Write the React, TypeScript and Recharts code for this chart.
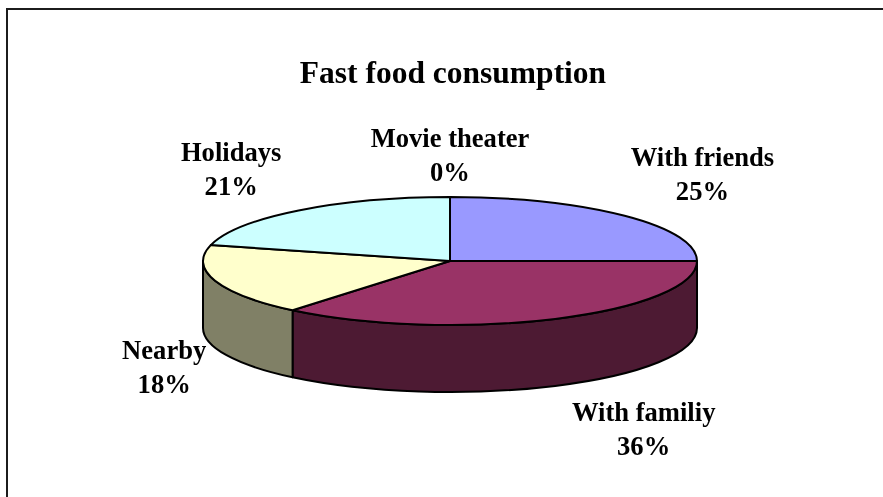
import { PieChart, Pie, Cell } from 'recharts';

const categories = ['With friends', 'With familiy', 'Nearby', 'Holidays', 'Movie theater'];
const shares = [25, 36, 18, 21, 0];

const topColors = ['#9999FF', '#993366', '#FFFFCC', '#CCFFFF', '#FFFFFF'];
const sideColors = ['#4D4D80', '#4D1A33', '#808066', '#668080', '#808080'];

const data = categories.map((name, i) => ({ name, value: shares[i] }));

const W = 883;
const H = 497;
const CX = 450;
const CY = 261;
const RX = 247;
const TILT = 0.259; // ry / rx
const DEPTH = 67;
const FONT = '"Liberation Serif", "Times New Roman", serif';

function pt(cx: number, cy: number, rx: number, ry: number, deg: number) {
  const r = (deg * Math.PI) / 180;
  return [cx + rx * Math.cos(r), cy - ry * Math.sin(r)];
}

// top face of a slice, squashed into an ellipse
function TopSlice(props: any) {
  const { cx, cy, outerRadius, startAngle, endAngle, fill } = props;
  if (Math.abs(startAngle - endAngle) < 1e-6) return <g />;
  const rx = outerRadius;
  const ry = outerRadius * TILT;
  const [x1, y1] = pt(cx, cy, rx, ry, startAngle);
  const [x2, y2] = pt(cx, cy, rx, ry, endAngle);
  const large = Math.abs(startAngle - endAngle) > 180 ? 1 : 0;
  const sweep = startAngle > endAngle ? 1 : 0;
  const d = `M${cx},${cy} L${x1},${y1} A${rx},${ry} 0 ${large} ${sweep} ${x2},${y2} Z`;
  return <path d={d} fill={fill} stroke="#000" strokeWidth={2} strokeLinejoin="round" />;
}

// visible front wall of a slice (lower half of the ellipse only)
function WallSlice(props: any) {
  const { cx, cy, outerRadius, startAngle, endAngle, fill } = props;
  const rx = outerRadius;
  const ry = outerRadius * TILT;
  const hi = Math.max(startAngle, endAngle);
  const lo = Math.min(startAngle, endAngle);
  const paths: string[] = [];
  for (const k of [-1, 0, 1]) {
    const a1 = Math.min(hi, 360 * k);
    const a2 = Math.max(lo, -180 + 360 * k);
    if (a1 - a2 > 1e-6) {
      const [x1, y1] = pt(cx, cy, rx, ry, a1);
      const [x2, y2] = pt(cx, cy, rx, ry, a2);
      paths.push(
        `M${x1},${y1} A${rx},${ry} 0 0 1 ${x2},${y2} L${x2},${y2 + DEPTH} A${rx},${ry} 0 0 0 ${x1},${y1 + DEPTH} Z`
      );
    }
  }
  return (
    <g>
      {paths.map((d, i) => (
        <path key={i} d={d} fill={fill} stroke="#000" strokeWidth={2} strokeLinejoin="round" />
      ))}
    </g>
  );
}

// labels sit outside the rim; lower ones are pushed below the wall
function renderLabel(props: any) {
  const { cx, cy, midAngle, outerRadius, index } = props;
  const r = (midAngle * Math.PI) / 180;
  const c = Math.cos(r);
  const s = Math.sin(r);
  const sign = Math.abs(c) < 0.01 ? 0 : Math.sign(c);
  let lx: number;
  let ly: number;
  if (s >= 0) {
    lx = cx + c * (outerRadius + 110);
    ly = cy - s * 65 - 41;
  } else {
    lx = cx + c * outerRadius * 0.71 + sign * 119;
    ly = cy - s * 104 + DEPTH + 7;
  }
  const style = { fontFamily: FONT, fontSize: 26.6, fontWeight: 'bold' as const };
  return (
    <g key={`lbl-${index}`}>
      <text x={lx} y={ly - 8} textAnchor="middle" fill="#000" style={style}>
        {categories[index]}
      </text>
      <text x={lx} y={ly + 26} textAnchor="middle" fill="#000" style={style}>
        {`${shares[index]}%`}
      </text>
    </g>
  );
}

export default function App() {
  return (
    <div style={{ position: 'fixed', left: 0, top: 0, width: W, height: H, overflow: 'hidden' }}>
      <div
        style={{
          position: 'absolute',
          left: 6,
          top: 8,
          width: W,
          height: H,
          borderTop: '2px solid #1c1c1c',
          borderLeft: '2px solid #1c1c1c',
          boxSizing: 'border-box',
        }}
      />
      <div
        style={{
          position: 'absolute',
          left: 53,
          width: 800,
          top: 57,
          textAlign: 'center',
          fontFamily: FONT,
          fontSize: 31.5,
          fontWeight: 'bold',
          lineHeight: 1,
          whiteSpace: 'nowrap',
        }}
      >
        Fast food consumption
      </div>
      <div style={{ position: 'absolute', left: 0, top: 0 }}>
        <PieChart width={W} height={H} margin={{ top: 0, right: 0, bottom: 0, left: 0 }}>
          <Pie
            data={data}
            dataKey="value"
            nameKey="name"
            cx={CX}
            cy={CY}
            outerRadius={RX}
            startAngle={90}
            endAngle={-270}
            isAnimationActive={false}
            shape={WallSlice}
            label={false}
            labelLine={false}
          >
            {data.map((d, i) => (
              <Cell key={d.name} fill={sideColors[i]} />
            ))}
          </Pie>
          <Pie
            data={data}
            dataKey="value"
            nameKey="name"
            cx={CX}
            cy={CY}
            outerRadius={RX}
            startAngle={90}
            endAngle={-270}
            isAnimationActive={false}
            shape={TopSlice}
            label={renderLabel}
            labelLine={false}
          >
            {data.map((d, i) => (
              <Cell key={d.name} fill={topColors[i]} />
            ))}
          </Pie>
        </PieChart>
      </div>
    </div>
  );
}
